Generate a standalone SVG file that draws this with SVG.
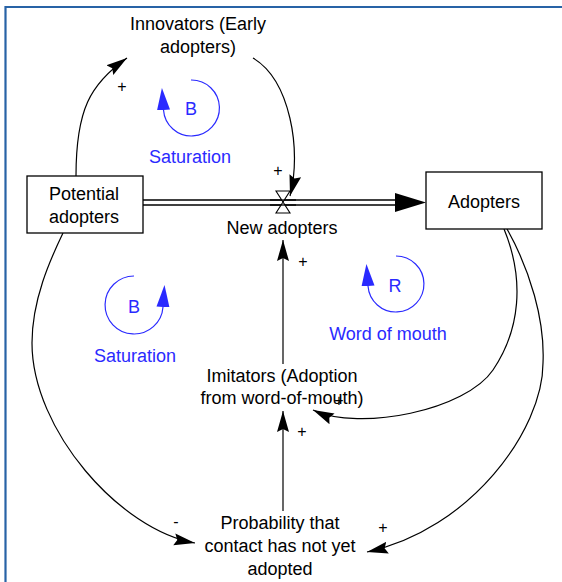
<svg xmlns="http://www.w3.org/2000/svg" width="562" height="582" viewBox="0 0 562 582">
<defs>
<style>
text{font-family:"Liberation Sans",Arial,sans-serif;font-size:18px;fill:#000}
.c{text-anchor:middle}
.blue{fill:#2a2aff}
.pol{font-size:16px}
.link{fill:none;stroke:#000;stroke-width:1.2}
.loop{fill:none;stroke:#2a2aff;stroke-width:1.2}
.box{fill:#fff;stroke:#000;stroke-width:1.3}
.flow{stroke:#000;stroke-width:1.3}
</style>
<marker id="ah" markerUnits="userSpaceOnUse" markerWidth="22" markerHeight="14" viewBox="0 0 22 14" refX="21" refY="7" orient="auto">
<path d="M0,1 L21,7 L0,13 L3,7 z" fill="#000"/>
</marker>
<marker id="bh" markerUnits="userSpaceOnUse" markerWidth="23" markerHeight="14" viewBox="0 0 23 14" refX="0" refY="7" orient="auto">
<path d="M0,0.5 L22,7 L0,13.5 z" fill="#2a2aff"/>
</marker>
</defs>
<rect width="562" height="582" fill="#fff"/>
<path d="M5.5,582 V7 H562" fill="none" stroke="#2863a6" stroke-width="2.2"/>

<g id="connectors">
<path class="link" d="M76,176 C76,110 90,84 127,58" marker-end="url(#ah)"/>
<path class="link" d="M253,58 C290,80 302,150 290,196" marker-end="url(#ah)"/>
<path class="link" d="M283,364 L283,240" marker-end="url(#ah)"/>
<path class="link" d="M283,511 L283,411" marker-end="url(#ah)"/>
<path class="link" d="M504,229 C525,280 520,330 493,370 C466,410 360,432 313,410" marker-end="url(#ah)"/>
<path class="link" d="M507,229 C530,270 545,320 543,363 C543,430 470,530 367,552" marker-end="url(#ah)"/>
<path class="link" d="M63,233 C50,260 32,300 32,343 C32,430 120,530 195,543" marker-end="url(#ah)"/>
</g>

<g id="flow">
<line class="flow" x1="143" y1="200" x2="396" y2="200"/>
<line class="flow" x1="143" y1="205" x2="396" y2="205"/>
<polygon points="395,193 426,202.5 395,212" fill="#000"/>
<path d="M276,191 L290,191 L283,202 z M283,202 L276,213 L290,213 z" fill="#fff" stroke="#000" stroke-width="1.1"/>
<line class="flow" x1="270" y1="200" x2="296" y2="200"/>
<line class="flow" x1="270" y1="205" x2="296" y2="205"/>
</g>

<g id="potential-adopters">
<rect class="box" x="27" y="176" width="116" height="57"/>
<text class="c" x="84" y="200">Potential</text>
<text class="c" x="84" y="223">adopters</text>
</g>

<g id="adopters">
<rect class="box" x="426" y="172" width="116" height="57"/>
<text class="c" x="484" y="208">Adopters</text>
</g>

<g id="innovators">
<text class="c" x="198" y="30">Innovators (Early</text>
<text class="c" x="198" y="53">adopters)</text>
</g>

<g id="new-adopters">
<text class="c" x="282" y="234">New adopters</text>
</g>

<g id="imitators">
<text class="c" x="282" y="382">Imitators (Adoption</text>
<text class="c" x="282" y="404">from word-of-mouth)</text>
</g>

<g id="probability">
<text class="c" x="280" y="529">Probability that</text>
<text class="c" x="280" y="552">contact has not yet</text>
<text class="c" x="280" y="575">adopted</text>
</g>

<g id="polarities">
<text class="c pol" x="122" y="92">+</text>
<text class="c pol" x="278" y="176">+</text>
<text class="c pol" x="303" y="267">+</text>
<text class="c pol" x="339" y="406">+</text>
<text class="c pol" x="302" y="437">+</text>
<text class="c pol" x="383" y="533">+</text>
<text class="c pol" x="176" y="527">-</text>
</g>

<g id="loop-b1">
<path class="loop" d="M191,80 A28,28 0 1 1 163.5,110" marker-end="url(#bh)"/>
<text class="c blue" x="191" y="115">B</text>
<text class="c blue" x="190" y="163">Saturation</text>
</g>

<g id="loop-b2">
<path class="loop" d="M134,276 A29,29 0 1 0 163,307" marker-end="url(#bh)"/>
<text class="c blue" x="134" y="313">B</text>
<text class="c blue" x="135" y="362">Saturation</text>
</g>

<g id="loop-r">
<path class="loop" d="M396,256 A28,28 0 1 1 368,286" marker-end="url(#bh)"/>
<text class="c blue" x="395" y="292">R</text>
<text class="c blue" x="388" y="340">Word of mouth</text>
</g>
</svg>
